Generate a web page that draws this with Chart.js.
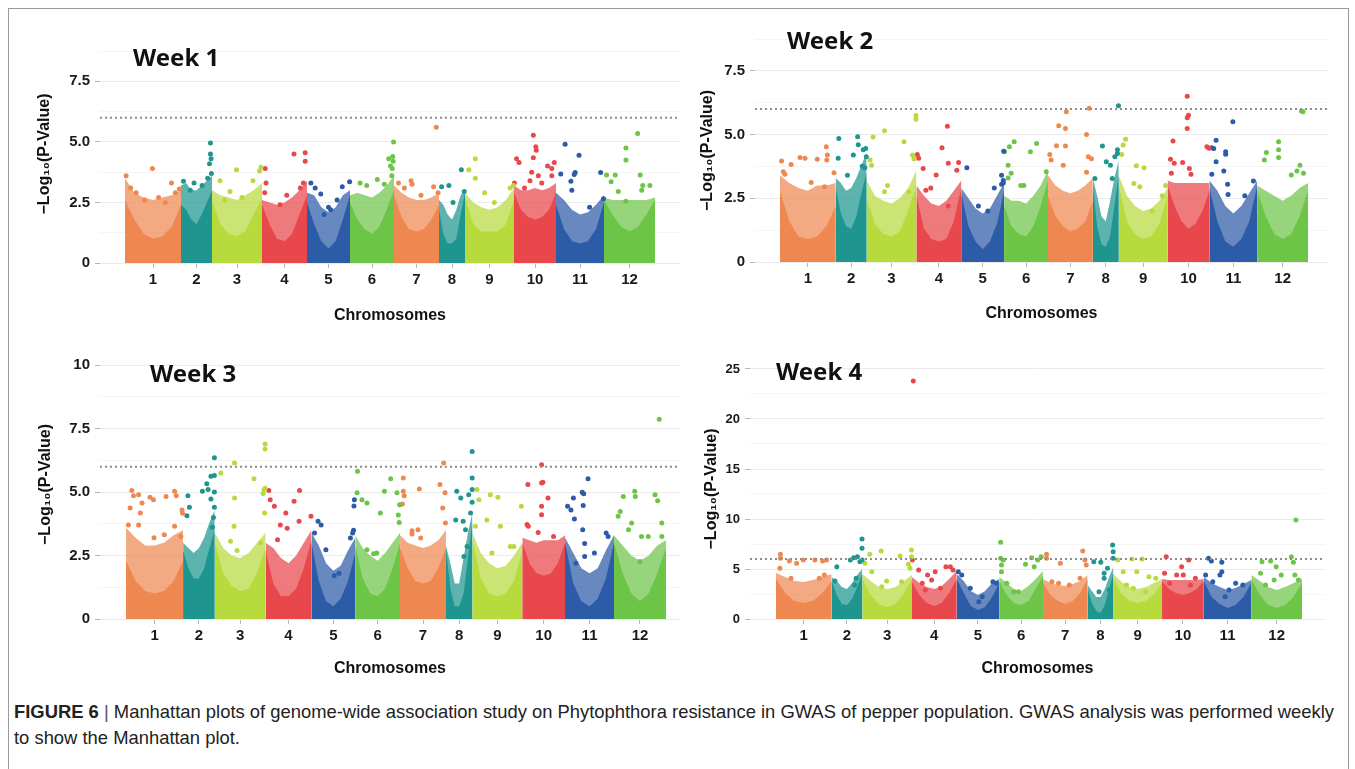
<!DOCTYPE html>
<html>
<head>
<meta charset="utf-8">
<script src="https://cdn.jsdelivr.net/npm/chart.js@4.4.1/dist/chart.umd.min.js"></script>
<style>
  html, body { margin: 0; padding: 0; background: #fff; }
  body { width: 1355px; height: 769px; position: relative; overflow: hidden; font-family: 'Liberation Sans', Arial, sans-serif; }
  .frame { position: absolute; left: 8px; top: 8px; width: 1339px; height: 800px; border: 1px solid #9a9a9a; }
  canvas { position: absolute; }
  .week { position: absolute; font-family: 'Noto Sans', 'Open Sans', sans-serif; font-weight: 700; font-size: 24px; line-height: 30px; color: #111; white-space: nowrap; }
  .caption { position: absolute; left: 14px; top: 699px; width: 1335px; font-size: 18.4px; line-height: 26px; color: #222; white-space: nowrap; }
  .caption b { color: #222; }
  .caption .bar { color: #555; }
</style>
</head>
<body>
<div class="frame"></div>
<canvas id="week1" width="680" height="305" style="left:10px;top:30px"></canvas>
<canvas id="week2" width="680" height="310" style="left:665px;top:25px"></canvas>
<canvas id="week3" width="680" height="355" style="left:10px;top:335px"></canvas>
<canvas id="week4" width="680" height="355" style="left:665px;top:335px"></canvas>
<div class="week" style="left:133px;top:42px">Week 1</div>
<div class="week" style="left:787px;top:25px">Week 2</div>
<div class="week" style="left:150px;top:358px">Week 3</div>
<div class="week" style="left:776px;top:356px">Week 4</div>
<div class="caption"><b>FIGURE 6</b> <span class="bar">|</span> Manhattan plots of genome-wide association study on Phytophthora resistance in GWAS of pepper population. GWAS analysis was performed weekly<br>to show the Manhattan plot.</div>
<script>
// chromosomes (relative lengths read from block widths)
const chromosomes = ['1', '2', '3', '4', '5', '6', '7', '8', '9', '10', '11', '12'];
const chromLengths = [280, 155, 250, 225, 215, 220, 225, 130, 245, 210, 240, 255];
const chromColors = ['#EF8850', '#1F958F', '#B7DA3D', '#E8474B', '#2C5BA7', '#6DC548',
                     '#EF8850', '#1F958F', '#B7DA3D', '#E8474B', '#2C5BA7', '#6DC548'];
const threshold = 6;

// top of the dense SNP cloud, 7 samples along each chromosome
const week1Top = [
  [3.5,2.9,2.7,2.6,2.7,2.8,3.0], [3.2,3.3,3.0,3.0,3.2,3.4,3.6], [3.0,2.8,2.7,2.6,2.8,3.0,3.3],
  [2.6,2.5,2.4,2.5,2.7,3.0,3.4], [2.9,2.8,2.3,2.1,2.3,2.8,3.0], [2.8,2.9,2.8,2.7,2.9,3.2,3.6],
  [3.2,2.9,2.7,2.6,2.6,2.7,2.9], [2.6,2.4,2.0,1.8,2.2,2.8,3.0], [2.9,2.5,2.3,2.2,2.3,2.6,3.1],
  [3.2,3.0,3.0,3.1,3.0,3.1,3.3], [2.9,2.6,2.2,2.0,2.1,2.4,2.8], [2.7,2.6,2.6,2.6,2.6,2.6,2.7]
];
// solid (fully covered) part of the cloud
const week1Solid = [
  [2.6,1.8,1.2,1.0,1.1,1.5,2.4], [2.4,2.2,1.8,1.6,2.0,2.5,3.0], [2.6,1.6,1.2,1.1,1.3,2.0,2.7],
  [2.4,1.6,1.0,0.9,1.2,2.0,2.8], [2.5,1.6,0.9,0.6,0.9,1.8,2.8], [2.5,1.8,1.4,1.2,1.5,2.2,3.0],
  [2.8,1.9,1.4,1.3,1.4,1.8,2.4], [2.2,1.2,0.8,0.8,1.0,2.0,2.9], [2.7,1.6,1.3,1.3,1.3,1.6,2.6],
  [2.9,2.2,1.9,1.8,1.9,2.2,2.9], [2.4,1.4,0.9,0.8,0.9,1.4,2.5], [2.6,2.0,1.5,1.3,1.5,2.0,2.6]
];
// single SNPs: [% along chromosome, -log10 p]
const week1Points = [
  [[2,3.6],[49,3.9],[83,3.3],[97,3.05],[20,2.9],[35,2.6],[60,2.7],[72,2.5],[10,3.1],[90,2.9]],
  [[8,3.37],[42,3.3],[68,3.2],[95,4.95],[95,4.5],[97,4.3],[92,4.1],[98,3.7],[86,3.5],[30,3.0]],
  [[49,3.85],[16,3.4],[82,3.4],[36,2.95],[98,3.95],[95,3.8],[60,2.7],[25,2.6]],
  [[7,3.9],[9,3.3],[6,2.9],[71,4.5],[96,4.55],[96,4.2],[55,2.8],[85,3.1],[92,3.3],[40,2.4]],
  [[9,3.3],[19,3.1],[32,2.85],[50,2.3],[55,2.2],[82,3.15],[99,3.35],[40,2.0],[70,2.6]],
  [[99,5.0],[97,4.4],[98,4.2],[96,3.9],[95,3.6],[23,3.3],[38,3.2],[62,3.45],[78,3.25],[88,4.3],[92,4.0]],
  [[94,5.6],[38,3.4],[40,3.25],[23,3.1],[88,3.15],[98,2.9],[10,3.3],[60,2.8]],
  [[10,3.15],[38,3.2],[54,2.5],[86,3.85],[97,2.95]],
  [[21,4.3],[8,3.85],[21,3.5],[40,2.9],[92,3.1],[99,3.2],[60,2.5]],
  [[1,3.3],[6,4.3],[12,4.15],[38,3.4],[42,3.75],[46,4.35],[46,5.27],[52,4.8],[53,4.65],[58,3.6],[80,4.0],[90,3.9],[96,4.15],[90,3.6],[66,3.3],[25,3.1]],
  [[19,4.9],[48,4.45],[10,3.67],[40,3.74],[38,3.65],[31,3.37],[33,3.0],[93,3.74],[99,2.65],[70,2.3]],
  [[66,5.35],[43,4.75],[43,4.25],[5,3.63],[22,3.63],[14,3.35],[71,3.63],[76,3.2],[90,3.2],[74,3.0],[28,2.95],[43,2.55]]
];

const week2Top = [
  [3.4,3.1,2.9,2.8,3.0,3.0,3.1], [3.3,3.1,2.8,2.9,3.3,3.8,4.3], [3.2,2.6,2.4,2.3,2.5,2.9,3.6],
  [3.0,2.6,2.3,2.2,2.4,2.8,3.2], [2.9,2.5,2.1,1.9,2.1,2.6,3.1], [2.6,2.4,2.4,2.3,2.6,3.0,3.6],
  [3.4,3.0,2.8,2.7,2.8,3.0,3.3], [3.3,2.6,1.8,1.6,2.4,3.3,4.0], [3.4,2.6,2.2,2.0,2.1,2.4,2.9],
  [3.2,3.1,3.1,3.1,3.1,3.1,3.1], [3.2,2.8,2.2,1.9,2.2,2.7,3.2], [3.0,2.8,2.6,2.4,2.6,2.9,3.1]
];
const week2Solid = [
  [2.8,1.6,1.0,0.9,1.0,1.4,2.2], [2.9,1.9,1.4,1.3,1.8,2.7,3.5], [2.5,1.5,1.1,1.0,1.2,2.0,3.0],
  [2.6,1.3,0.9,0.8,0.9,1.6,2.9], [2.7,1.4,0.8,0.5,0.8,1.5,2.8], [2.2,1.4,1.1,1.0,1.4,2.2,3.2],
  [2.6,1.8,1.4,1.2,1.3,1.6,2.4], [3.0,1.4,0.7,0.6,1.0,2.2,3.4], [3.0,1.6,1.1,0.9,1.0,1.5,2.6],
  [3.0,2.2,1.6,1.3,1.5,2.0,2.8], [2.9,1.6,0.8,0.6,0.9,1.6,3.0], [2.8,1.8,1.1,0.9,1.1,1.8,2.8]
];
const week2Points = [
  [[3,3.96],[20,3.83],[36,4.1],[45,4.07],[67,4.03],[83,4.52],[85,4.2],[84,4.0],[97,3.5],[9,3.44],[56,3.12],[80,2.95],[6,3.54]],
  [[10,4.85],[71,4.91],[73,4.6],[57,4.2],[89,4.4],[97,4.45],[99,4.13],[8,4.07],[38,3.4],[86,3.76],[94,3.7]],
  [[13,4.9],[36,5.15],[75,4.72],[99,5.75],[99,5.6],[92,4.2],[95,4.05],[7,4.0],[10,3.8],[42,3.0],[36,2.76],[85,2.76]],
  [[69,5.33],[57,4.48],[2,4.22],[5,4.07],[15,3.67],[44,3.41],[71,3.87],[94,3.9],[90,3.6],[21,2.82],[71,2.2],[32,2.9]],
  [[13,3.7],[77,2.9],[62,2.0],[40,2.2],[98,3.2],[94,3.4],[94,3.05],[99,4.35],[98,3.1]],
  [[1,4.33],[12,4.52],[23,4.72],[74,4.65],[60,4.33],[9,3.8],[16,3.48],[38,3.0],[45,3.0],[9,3.3],[96,3.54]],
  [[41,5.9],[92,6.03],[24,5.35],[39,5.24],[86,5.0],[19,4.56],[39,4.55],[4,4.22],[90,4.13],[97,4.05],[34,3.8],[86,3.52],[7,4.0]],
  [[99,6.13],[37,4.55],[52,3.93],[68,3.8],[85,4.13],[95,4.26],[95,4.4],[8,3.28],[75,3.28]],
  [[14,4.82],[9,4.59],[6,4.22],[36,3.78],[52,3.7],[31,3.08],[43,2.95],[69,2.0],[96,3.0],[89,2.6]],
  [[47,6.5],[50,5.76],[47,5.66],[47,5.24],[13,4.75],[7,4.03],[16,3.87],[36,3.9],[52,3.67],[56,3.44],[9,3.48],[94,4.52],[99,4.46]],
  [[49,5.5],[14,4.78],[5,4.48],[9,4.45],[34,4.33],[34,4.23],[14,3.93],[30,3.57],[5,3.44],[38,3.05],[39,2.65],[74,2.6],[92,3.18]],
  [[87,5.92],[90,5.9],[42,4.72],[42,4.4],[42,4.1],[18,4.3],[14,4.0],[84,3.8],[91,3.48],[67,3.41],[78,3.57]]
];

const week3Top = [
  [3.6,3.2,2.9,2.9,3.0,3.3,3.5], [3.0,2.8,2.6,2.8,3.2,3.8,4.3], [3.4,2.8,2.5,2.4,2.6,3.0,3.4],
  [3.0,2.8,2.4,2.2,2.5,3.0,3.5], [3.4,2.9,2.2,1.9,2.1,2.7,3.2], [3.3,2.8,2.5,2.3,2.6,3.0,3.4],
  [3.3,3.0,2.9,2.8,2.9,3.1,3.5], [2.9,2.2,1.4,1.4,2.4,3.4,4.2], [3.4,2.6,2.2,2.0,2.1,2.5,3.0],
  [3.2,3.1,3.0,3.1,3.1,3.1,3.3], [3.2,2.6,2.0,1.8,2.0,2.7,3.3], [3.3,2.9,2.5,2.3,2.5,2.9,3.1]
];
const week3Solid = [
  [2.3,1.5,1.1,1.0,1.1,1.5,2.3], [2.7,2.0,1.6,1.6,2.0,2.8,3.5], [3.0,1.8,1.3,1.1,1.2,1.8,2.8],
  [2.7,1.4,0.9,0.9,1.2,2.0,3.1], [3.0,1.5,0.7,0.5,0.8,1.5,2.6], [2.9,1.6,1.0,0.9,1.2,2.0,3.0],
  [2.8,2.0,1.5,1.4,1.5,2.0,2.8], [2.8,1.2,0.5,0.5,1.0,2.4,3.8], [3.1,1.6,1.0,0.9,1.0,1.5,2.7],
  [3.0,2.2,1.8,1.7,1.8,2.2,3.0], [3.0,1.4,0.7,0.5,0.8,1.6,3.0], [3.0,1.8,1.0,0.7,1.0,1.8,2.8]
];
const week3Points = [
  [[10,5.06],[13,4.86],[22,4.9],[28,4.57],[42,4.8],[48,4.7],[70,4.83],[85,5.03],[88,4.86],[99,4.17],[98,4.3],[7,4.37],[4,3.7],[22,3.7],[25,4.18],[67,3.32],[85,3.65],[49,3.2],[96,3.25]],
  [[99,6.35],[99,5.65],[88,5.63],[75,5.33],[61,5.03],[79,5.1],[88,4.73],[15,4.86],[20,4.4],[12,4.07],[96,4.0],[93,3.62],[99,5.0],[99,4.4]],
  [[99,6.9],[99,6.7],[39,6.15],[12,5.75],[77,5.53],[39,4.77],[97,5.1],[95,4.95],[99,5.15],[38,3.65],[31,3.06],[44,2.7],[90,3.0],[98,4.18]],
  [[7,5.06],[74,5.06],[19,4.44],[10,4.7],[62,4.64],[44,4.18],[32,3.7],[47,3.58],[73,3.85],[99,4.05],[26,3.12]],
  [[15,3.85],[22,3.7],[7,3.39],[33,2.73],[89,3.19],[94,3.39],[98,4.7],[97,4.45],[96,3.5],[63,1.8],[52,1.7]],
  [[5,5.82],[4,4.97],[15,4.7],[26,4.57],[65,5.03],[79,5.53],[93,4.97],[96,4.1],[56,4.18],[26,2.73],[48,2.6],[41,2.57],[98,3.8],[99,4.5]],
  [[95,6.15],[7,5.56],[7,5.03],[9,4.86],[42,5.12],[87,5.3],[98,4.97],[93,4.37],[5,4.53],[99,3.78],[39,3.52],[26,3.48],[45,3.19],[26,3.35]],
  [[99,6.6],[99,5.56],[41,5.03],[56,4.77],[99,5.1],[86,4.9],[99,4.6],[37,3.9],[65,3.85],[74,3.52],[80,2.86],[68,2.46],[93,4.18]],
  [[9,5.1],[13,4.7],[36,4.9],[51,4.8],[98,4.44],[29,3.9],[56,3.65],[6,3.65],[76,2.86],[83,2.86],[39,2.6]],
  [[45,6.08],[48,5.39],[45,5.36],[13,5.3],[60,4.77],[45,4.44],[45,4.11],[11,3.72],[14,3.65],[37,3.41],[73,3.25]],
  [[47,5.53],[35,4.99],[38,4.94],[17,4.77],[5,4.44],[12,4.3],[19,3.94],[37,4.47],[36,3.52],[40,2.98],[40,2.46],[84,3.39],[88,3.25],[60,2.6],[22,2.2]],
  [[87,7.87],[40,5.03],[41,4.83],[18,4.83],[79,4.9],[84,4.66],[12,4.24],[8,4.05],[34,3.78],[28,3.52],[92,3.78],[92,3.25],[53,3.25],[66,3.25],[50,2.27]]
];

const week4Top = [
  [4.6,4.2,3.8,3.7,3.9,4.2,4.5], [4.2,3.8,3.2,3.0,3.6,4.4,5.0], [4.5,3.8,3.2,3.0,3.2,3.8,4.4],
  [4.2,3.6,3.2,3.0,3.3,4.0,4.8], [4.5,3.8,2.8,2.4,2.8,3.6,4.0], [4.2,3.6,3.0,2.8,3.3,4.0,4.8],
  [4.0,3.6,3.4,3.3,3.5,3.8,4.4], [3.4,2.8,2.2,2.2,3.0,4.2,5.2], [4.5,3.7,3.2,3.0,3.2,3.6,4.0],
  [4.0,3.9,3.9,3.9,3.9,3.9,4.0], [4.2,3.6,3.2,2.9,3.1,3.5,3.9], [4.4,3.8,3.2,2.9,3.2,3.6,4.0]
];
const week4Solid = [
  [4.0,2.6,1.8,1.6,1.8,2.6,3.8], [3.8,2.4,1.5,1.4,2.0,3.2,4.5], [4.0,2.4,1.5,1.2,1.5,2.5,4.0],
  [3.7,2.4,1.6,1.3,1.6,2.6,4.0], [4.0,2.6,1.3,0.9,1.2,2.2,3.6], [3.8,2.4,1.6,1.4,1.8,3.0,4.3],
  [3.6,2.4,1.8,1.5,1.8,2.6,4.0], [3.0,1.6,0.8,0.6,1.4,3.0,4.6], [4.0,2.5,1.8,1.6,1.8,2.5,3.6],
  [3.8,3.0,2.6,2.4,2.6,3.0,3.8], [3.8,2.2,1.5,1.1,1.4,2.2,3.6], [4.0,2.4,1.4,1.1,1.4,2.2,3.6]
];
const week4Points = [
  [[8,6.47],[8,6.07],[24,5.8],[37,5.57],[49,5.9],[70,5.9],[84,5.8],[91,5.9],[7,5.07],[87,4.4],[78,4.07],[27,4.07]],
  [[99,8.0],[99,7.07],[99,5.9],[84,6.23],[72,6.13],[61,5.9],[17,5.23],[11,3.8],[75,3.4],[80,4.07],[92,5.73]],
  [[38,6.8],[15,6.47],[76,6.3],[99,6.9],[99,6.23],[5,5.57],[93,5.47],[96,5.07],[49,3.8],[79,3.73],[39,3.23],[19,4.73]],
  [[3,23.8],[1,5.9],[15,4.9],[35,4.4],[44,3.9],[52,4.73],[76,5.23],[92,4.9],[86,5.23],[23,3.57],[30,2.9],[64,3.07]],
  [[4,4.73],[12,4.4],[32,3.07],[85,3.73],[93,3.57],[60,2.23],[52,1.73]],
  [[3,7.67],[3,6.07],[9,5.9],[5,5.4],[5,4.73],[60,5.47],[74,6.13],[88,5.9],[96,6.23],[33,2.73],[44,2.73],[17,3.57],[80,5.23]],
  [[8,6.47],[8,6.07],[39,5.57],[89,6.8],[94,5.9],[97,5.4],[20,3.73],[35,3.57],[59,3.4],[83,4.07]],
  [[97,7.4],[99,6.73],[99,6.07],[51,5.67],[24,5.73],[64,4.57],[77,5.07],[64,4.07],[44,2.73],[84,2.9]],
  [[9,5.9],[38,6.0],[59,6.0],[20,4.73],[48,4.73],[27,3.4],[41,3.07],[73,4.23],[87,4.07],[66,2.73]],
  [[10,6.23],[64,5.9],[47,5.23],[6,4.57],[35,4.4],[51,4.4],[18,3.57],[80,4.07],[68,3.4]],
  [[10,6.07],[16,5.8],[38,5.67],[38,4.73],[34,4.4],[4,4.4],[19,3.73],[67,3.57],[82,3.4],[53,2.9],[45,2.23]],
  [[88,9.9],[79,6.23],[83,5.67],[21,5.73],[38,5.8],[49,5.23],[18,4.57],[59,4.4],[45,3.9],[28,3.4],[86,4.4],[93,3.9]]
];

const chromStarts = [];
let genomeLength = 0;
chromLengths.forEach(len => { chromStarts.push(genomeLength); genomeLength += len; });
const chromCentres = chromStarts.map((s, i) => s + chromLengths[i] / 2);

const textFont = "'Liberation Sans', Arial, sans-serif";

function fade(hex, a) {
  const n = parseInt(hex.slice(1), 16);
  return `rgba(${n >> 16},${(n >> 8) & 255},${n & 255},${a})`;
}

function envelope(c, heights) {
  const n = heights.length - 1;
  return heights.map((h, i) => ({ x: chromStarts[c] + chromLengths[c] * i / n, y: h }));
}

function isStep(v, step) {
  return Math.abs(v / step - Math.round(v / step)) < 1e-6;
}

function drawPanel(p) {
  const datasets = [];
  chromLengths.forEach((len, c) => {
    const col = chromColors[c];
    datasets.push({
      type: 'scatter', order: 1,
      data: p.points[c].map(([pct, v]) => ({ x: chromStarts[c] + len * pct / 100, y: v })),
      backgroundColor: col, borderWidth: 0, pointRadius: 2.5
    });
    datasets.push({
      type: 'line', order: 2, data: envelope(c, p.solid[c]), fill: 'origin',
      backgroundColor: col, borderColor: 'rgba(0,0,0,0)', borderWidth: 0, pointRadius: 0
    });
    datasets.push({
      type: 'line', order: 3, data: envelope(c, p.top[c]), fill: 'origin',
      backgroundColor: fade(col, 0.72), borderColor: 'rgba(0,0,0,0)', borderWidth: 0, pointRadius: 0
    });
  });
  datasets.push({
    type: 'line', order: 0, fill: false,
    data: [{ x: p.xMin, y: threshold }, { x: p.xMax, y: threshold }],
    borderColor: '#8c8c8c', borderWidth: 2, borderDash: [2, 3], pointRadius: 0
  });

  new Chart(document.getElementById(p.id), {
    type: 'scatter',
    data: { datasets },
    options: {
      responsive: false, animation: false, devicePixelRatio: 1, events: [],
      layout: { padding: p.padding },
      plugins: { legend: { display: false }, tooltip: { enabled: false } },
      scales: {
        x: {
          type: 'linear', min: p.xMin, max: p.xMax,
          afterBuildTicks: s => { s.ticks = chromCentres.map(v => ({ value: v })); },
          afterFit: s => { s.height = p.xAxisHeight; },
          ticks: {
            autoSkip: false, maxRotation: 0, padding: 3, color: '#1a1a1a',
            font: { family: textFont, size: 15, weight: 'bold' },
            callback: (v, i) => chromosomes[i]
          },
          grid: { drawOnChartArea: false, tickLength: 5, color: '#b5b5b5' },
          border: { display: false },
          title: {
            display: true, text: 'Chromosomes', color: '#111',
            font: { family: textFont, size: 16, weight: 'bold' },
            padding: { top: 0, bottom: p.xTitlePad }
          }
        },
        y: {
          min: 0, max: p.yMax,
          afterBuildTicks: s => {
            const t = [];
            for (let v = 0; v <= p.yMax + 1e-9; v += p.yMajor / 2) t.push({ value: v });
            s.ticks = t;
          },
          afterFit: s => { s.width = p.yAxisWidth; },
          ticks: {
            autoSkip: false, padding: 5, color: '#1a1a1a',
            font: { family: textFont, size: p.tickSize, weight: 'bold' },
            callback: v => isStep(v, p.yMajor) ? p.fmt(v) : ''
          },
          grid: {
            tickLength: 5,
            color: ctx => isStep(ctx.tick.value, p.yMajor) ? '#ebebeb' : '#f5f5f5',
            tickColor: ctx => isStep(ctx.tick.value, p.yMajor) ? '#b5b5b5' : 'rgba(0,0,0,0)'
          },
          border: { display: false },
          title: {
            display: true, text: '\u2212Log\u2081\u2080(P-Value)', color: '#111',
            font: { family: textFont, size: 16, weight: 'bold' },
            padding: { top: p.yTitlePad, bottom: 0 }
          }
        }
      }
    }
  });
}

const decimalLabel = v => v === 0 ? '0' : v >= 10 ? String(v) : v.toFixed(1);

drawPanel({ id: 'week1', top: week1Top, solid: week1Solid, points: week1Points,
  xMin: -125, xMax: 2775, yMax: 9, yMajor: 2.5, fmt: decimalLabel, tickSize: 15,
  padding: { top: 15, right: 10, bottom: 0, left: 0 }, yAxisWidth: 90, xAxisHeight: 72, xTitlePad: 10, yTitlePad: 25 });
drawPanel({ id: 'week2', top: week2Top, solid: week2Solid, points: week2Points,
  xMin: -125, xMax: 2750, yMax: 8.75, yMajor: 2.5, fmt: decimalLabel, tickSize: 15,
  padding: { top: 14, right: 17, bottom: 0, left: 0 }, yAxisWidth: 90, xAxisHeight: 73, xTitlePad: 12, yTitlePad: 33 });
drawPanel({ id: 'week3', top: week3Top, solid: week3Solid, points: week3Points,
  xMin: -128, xMax: 2719, yMax: 10.6, yMajor: 2.5, fmt: decimalLabel, tickSize: 15,
  padding: { top: 15, right: 10, bottom: 0, left: 0 }, yAxisWidth: 90, xAxisHeight: 71, xTitlePad: 12, yTitlePad: 26 });
drawPanel({ id: 'week4', top: week4Top, solid: week4Solid, points: week4Points,
  xMin: -131, xMax: 2766, yMax: 26, yMajor: 5, fmt: v => String(v), tickSize: 13,
  padding: { top: 24, right: 20, bottom: 0, left: 0 }, yAxisWidth: 85, xAxisHeight: 71, xTitlePad: 12, yTitlePad: 37 });
</script>
</body>
</html>
